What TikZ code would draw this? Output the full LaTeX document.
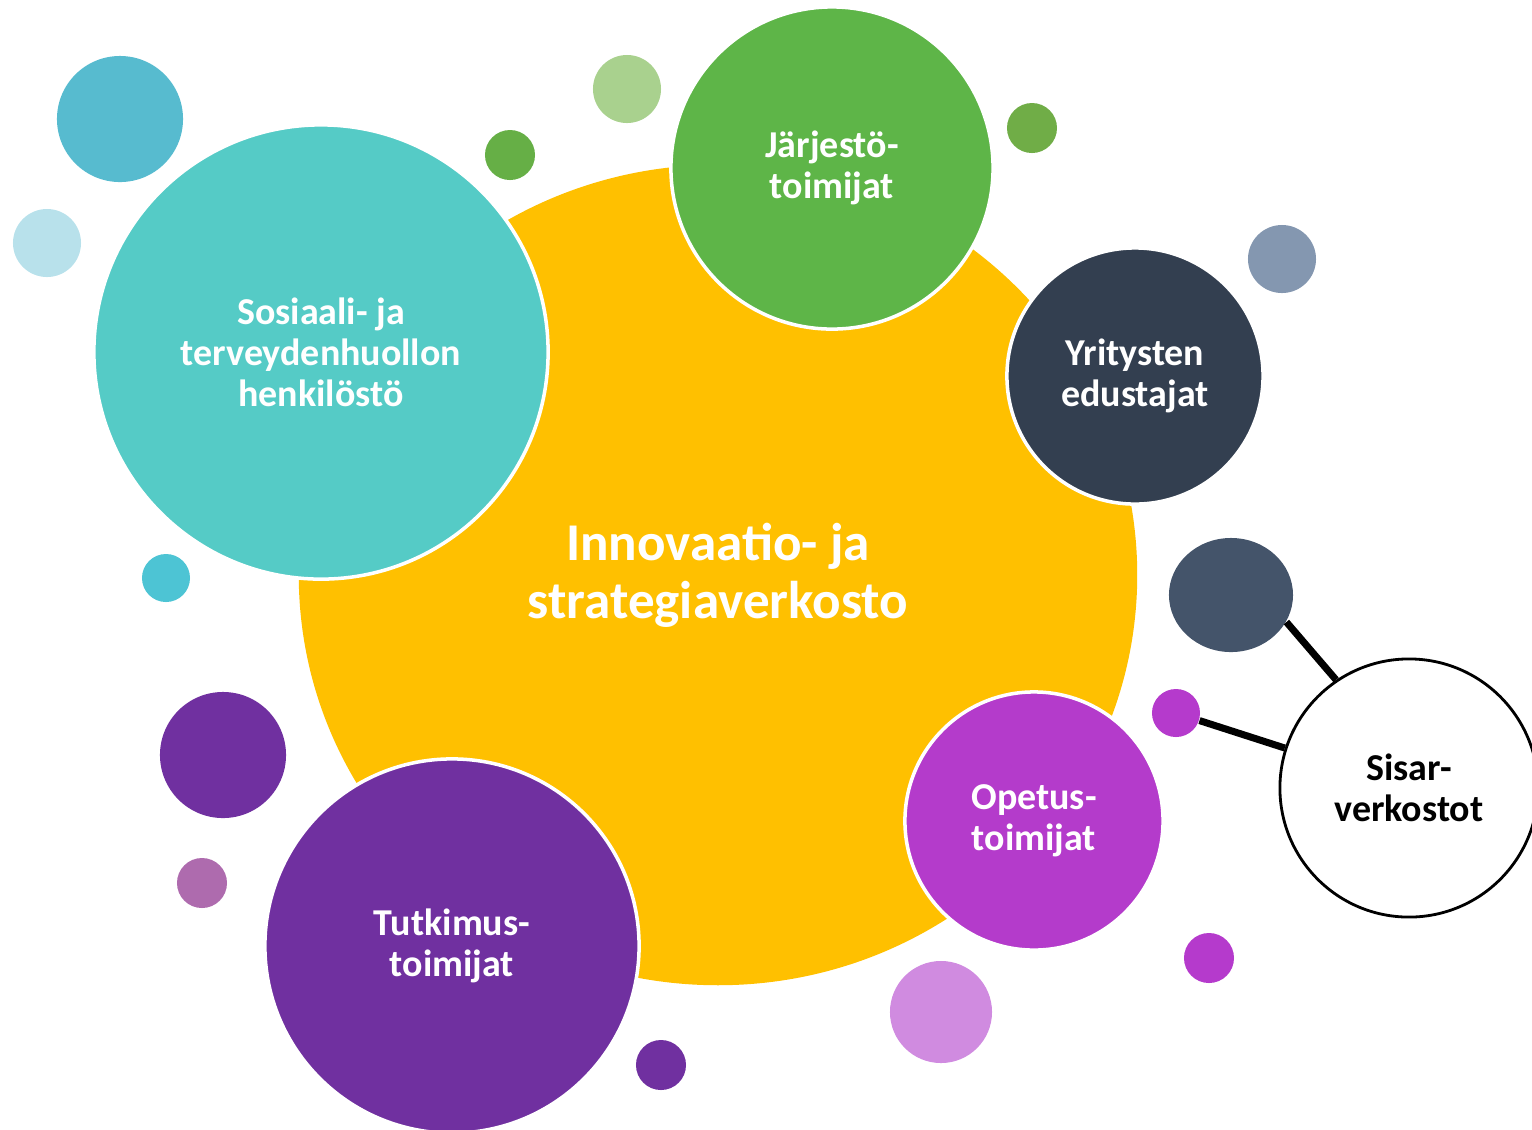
\documentclass[tikz,border=0pt]{standalone}
\usepackage{fontspec}
\setmainfont{Carlito}
\usetikzlibrary{shapes.geometric}

\definecolor{keltainen}{HTML}{FFC000}
\definecolor{turkoosi}{HTML}{55CBC6}
\definecolor{vihrea}{HTML}{5EB548}
\definecolor{tummasini}{HTML}{333F50}
\definecolor{violetti}{HTML}{7030A0}
\definecolor{magenta2}{HTML}{B43BCB}
\definecolor{harmaasini}{HTML}{44546A}
\definecolor{sininen}{HTML}{57BBCF}
\definecolor{vaaleansininen}{HTML}{B8E1EB}
\definecolor{turkoosi2}{HTML}{4DC4D4}
\definecolor{vaaleanvihrea}{HTML}{A9D18E}
\definecolor{vihrea2}{HTML}{66AF46}
\definecolor{vihrea3}{HTML}{70AD47}
\definecolor{siniharmaa}{HTML}{8497B0}
\definecolor{vaaleanvioletti}{HTML}{AE6BAE}
\definecolor{vaaleanmagenta}{HTML}{D08BE0}
\definecolor{magenta3}{HTML}{B53ACC}

\begin{document}
\begin{tikzpicture}[x=0.01cm, y=-0.01cm,
	bubble/.style={circle, fill=#1, draw=white, line width=1pt, inner sep=0pt,
		text=white, align=center, font=\bfseries\fontsize{10.8}{11.7}\selectfont},
	dot/.style={circle, fill=#1, inner sep=0pt},
	linkki/.style={line width=2pt, black}]
		% Rajaus
		\useasboundingbox (0,0) rectangle (1532,1129);

		% Keskusverkosto
		\node[ellipse, fill=keltainen, inner sep=0pt, minimum width=8.38cm, minimum height=8.2cm,
			text=white, align=center, font=\bfseries\fontsize{15.1}{16.5}\selectfont]
			(innov) at (718,575) {Innovaatio- ja\\strategiaverkosto};

		% Toimijat
		\node[bubble=turkoosi, minimum size=4.54cm] (sote) at (321,352) {Sosiaali- ja\\terveydenhuollon\\henkilöstö};
		\node[bubble=vihrea, minimum size=3.22cm] (jarjesto) at (832,168) {Järjestö-\\toimijat};
		\node[bubble=tummasini, minimum size=2.56cm] (yritys) at (1135,376) {Yritysten\\edustajat};
		\node[bubble=violetti, minimum size=3.74cm] (tutkimus) at (452,946) {Tutkimus-\\toimijat};
		\node[bubble=magenta2, minimum size=2.58cm] (opetus) at (1034,821) {Opetus-\\toimijat};

		% Sisarverkostot
		\node[circle, draw=black, fill=white, line width=0.8pt, minimum size=2.58cm, inner sep=0pt,
			align=center, font=\bfseries\fontsize{10.8}{11.7}\selectfont] (sisar) at (1409,788) {Sisar-\\verkostot};
		\node[ellipse, fill=harmaasini, inner sep=0pt, minimum width=1.24cm, minimum height=1.14cm] (sisarA) at (1231,595) {};
		\node[dot=magenta3, minimum size=0.48cm] (sisarB) at (1176,713) {};
		\draw[linkki] (sisarA.-26) -- (sisar.124);
		\draw[linkki] (sisarB) -- (sisar);

		% Pienet pallot
		\node[dot=sininen, minimum size=1.26cm] (p1) at (120,119) {};
		\node[dot=vaaleansininen, minimum size=0.68cm] (p2) at (47,243) {};
		\node[dot=turkoosi2, minimum size=0.48cm] (p3) at (166,578) {};
		\node[dot=vaaleanvihrea, minimum size=0.68cm] (p4) at (627,89) {};
		\node[dot=vihrea2, minimum size=0.5cm] (p5) at (510,155) {};
		\node[dot=vihrea3, minimum size=0.5cm] (p6) at (1032,128) {};
		\node[dot=siniharmaa, minimum size=0.68cm] (p7) at (1282,259) {};
		\node[dot=violetti, minimum size=1.26cm] (p8) at (223,755) {};
		\node[dot=vaaleanvioletti, minimum size=0.5cm] (p9) at (202,883) {};
		\node[dot=violetti, minimum size=0.5cm] (p10) at (661,1065) {};
		\node[dot=vaaleanmagenta, minimum size=1.02cm] (p11) at (941,1012) {};
		\node[dot=magenta3, minimum size=0.5cm] (p12) at (1209,958) {};
	\end{tikzpicture}
\end{document}
